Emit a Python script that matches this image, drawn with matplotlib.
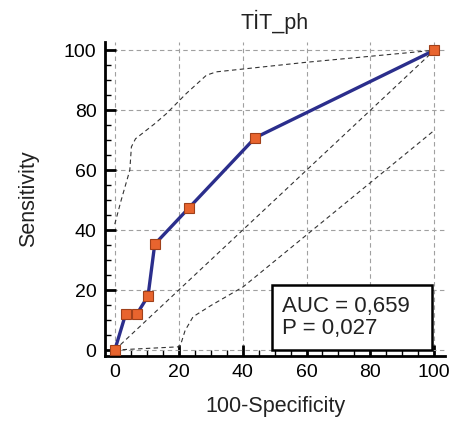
import matplotlib
matplotlib.use("Agg")
import matplotlib.pyplot as plt
from matplotlib.patches import Rectangle
from matplotlib.ticker import MultipleLocator

plt.rcParams['font.family'] = ['Liberation Sans', 'DejaVu Sans']

# ROC curve points
fpr = [0, 3.4, 6.9, 10.4, 12.5, 23.1, 43.9, 100]
tpr = [0, 12.0, 12.0, 18.0, 35.3, 47.3, 70.8, 100]

# confidence bounds
upper_x = [0, 2, 4.7, 5.2, 6.5, 8.9, 12.5, 16.2, 22.4, 28.7, 31.8, 60, 100]
upper_y = [42, 50, 60, 67.8, 70.5, 72.5, 75.5, 78.9, 85.6, 91.7, 92.8, 96, 100]
lower_x = [0, 20.4, 22.0, 24.5, 30, 40.2, 100]
lower_y = [0, 1.1, 6.5, 11.1, 14.8, 21.1, 73.3]

auc_text = "AUC = 0,659\nP = 0,027"

fig = plt.figure(figsize=(4.58, 4.23), dpi=100)
ax = fig.add_axes([0.229, 0.159, 0.743, 0.742])

dash = (0, (4, 3))
ax.plot([0, 100], [0, 100], color='#333333', ls=dash, lw=0.8)
ax.plot(upper_x, upper_y, color='#333333', ls=dash, lw=0.8)
ax.plot(lower_x, lower_y, color='#333333', ls=dash, lw=0.8)

ax.plot(fpr, tpr, color='#2b2e8c', lw=2.4, marker='s', markersize=7,
        markerfacecolor='#e8642e', markeredgecolor='#a0401a', markeredgewidth=0.8,
        clip_on=False, zorder=5)

ax.set_xlim(-3.1, 103.4)
ax.set_ylim(-1.9, 102.8)
ax.xaxis.set_major_locator(MultipleLocator(20))
ax.yaxis.set_major_locator(MultipleLocator(20))
ax.xaxis.set_minor_locator(MultipleLocator(5))
ax.yaxis.set_minor_locator(MultipleLocator(5))
ax.grid(True, which='major', color='#a0a0a0', ls=dash, lw=0.8)

for s in ['top', 'right']:
    ax.spines[s].set_visible(False)
for s in ['left', 'bottom']:
    ax.spines[s].set_linewidth(2)
ax.tick_params(which='major', direction='in', length=8, width=2, labelsize=14, pad=6, colors='black')
ax.tick_params(which='minor', direction='in', length=4, width=1)

ax.set_title("TİT_ph", fontsize=15.5, pad=9, color='#222222')
ax.set_xlabel("100-Specificity", fontsize=15.5, labelpad=11, color='#222222')
ax.set_ylabel("Sensitivity", fontsize=15.5, labelpad=18, color='#222222')

ax.add_patch(Rectangle((49.2, 0), 50.2, 21.7, facecolor='white', edgecolor='black',
                       lw=1.8, zorder=6))
ax.text(52.3, 10.8, auc_text, fontsize=16, va='center', ha='left', linespacing=1.05,
        color='#222222', zorder=7)

fig.savefig("out.png", dpi=100)
